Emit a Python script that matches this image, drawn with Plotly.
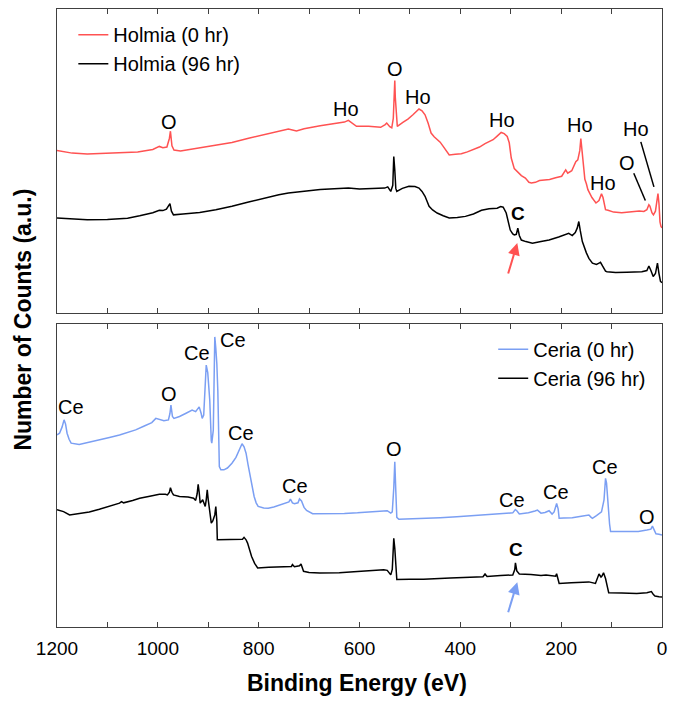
import plotly.graph_objects as go

# ---------------- data (binding energy in eV, counts in a.u. = % of panel height) -------------
holmia0_E = [1200, 1170, 1140, 1100, 1076, 1040, 1010, 997, 990, 982, 977, 975, 972, 968, 955, 917, 885, 853,
             820, 789, 760, 741, 725, 710, 678, 646, 630, 622, 614, 606, 582, 558, 549, 546, 540, 536, 533, 531,
             530, 529, 527, 525, 514, 504, 494, 488, 482, 476, 470, 464, 458, 452, 446, 440, 434, 428, 422, 410,
             398, 386, 374, 362, 351, 343, 335, 327, 319, 313, 307, 303, 299, 293, 287, 279, 271, 264, 259, 251,
             243, 233, 223, 211, 199, 191, 187, 179, 171, 167, 163, 161, 159, 156, 153, 150, 147, 139, 131, 125,
             120, 117, 112, 107, 102, 96, 80, 64, 53, 45, 36, 30, 26, 24, 20, 17, 13, 10, 8, 6, 4, 2, 0]
holmia0_C = [53.5, 52.6, 52.3, 52.5, 52.6, 53.0, 53.8, 54.8, 54.4, 54.6, 57.5, 59.8, 55.0, 53.6, 53.3, 54.3, 55.2,
             56.1, 57.5, 58.7, 60.0, 60.5, 59.9, 60.6, 61.6, 62.5, 62.8, 63.4, 62.5, 61.4, 61.4, 61.1, 62.0, 62.5,
             61.3, 60.9, 64.0, 72.0, 76.5, 71.0, 64.0, 61.4, 62.7, 63.8, 65.2, 66.2, 67.1, 66.5, 65.2, 62.5, 59.2,
             58.0, 57.0, 56.2, 54.8, 53.2, 52.0, 52.2, 52.4, 53.0, 53.7, 54.6, 55.7, 56.3, 57.0, 58.2, 59.4, 59.0,
             58.1, 56.0, 51.0, 47.5, 46.6, 45.2, 44.4, 43.0, 42.8, 43.0, 43.6, 43.8, 43.9, 44.5, 45.0, 47.1, 46.0,
             46.8, 49.8, 50.4, 53.5, 57.4, 54.0, 48.0, 44.0, 42.5, 40.6, 38.0, 36.2, 37.0, 39.2, 38.0, 34.0, 33.8,
             33.6, 33.2, 33.0, 33.2, 33.4, 33.6, 33.4, 34.0, 35.6, 35.2, 33.0, 32.3, 33.5, 38.0, 39.3, 36.0, 30.0,
             28.5, 28.0]

holmia96_E = [1200, 1170, 1140, 1100, 1076, 1060, 1036, 1010, 997, 990, 983, 978, 976, 973, 969, 950, 917, 885,
              853, 820, 789, 760, 741, 710, 678, 650, 622, 600, 575, 550, 544, 538, 534, 532, 530, 528, 526, 515,
              502, 490, 482, 476, 470, 462, 455, 446, 434, 422, 406, 390, 374, 358, 343, 335, 327, 320, 315, 309,
              305, 301, 296, 293, 289, 287, 286, 283, 279, 270, 257, 240, 224, 205, 191, 185, 178, 172, 168, 165,
              162, 158, 150, 145, 138, 130, 124, 122, 118, 112, 109, 92, 70, 50, 40, 30, 26, 22, 17.5, 13, 11, 9,
              6, 3, 0]
holmia96_C = [31.3, 30.9, 30.7, 30.8, 31.0, 31.2, 32.0, 33.0, 33.8, 33.7, 34.2, 35.5, 36.0, 33.5, 32.3, 32.6, 33.1,
              34.0, 35.1, 36.5, 37.8, 38.9, 39.5, 40.1, 40.6, 40.9, 41.1, 40.8, 41.0, 41.1, 41.5, 40.0, 42.0, 51.5,
              47.0, 41.0, 40.0, 41.0, 41.7, 41.6, 41.1, 40.0, 38.4, 35.1, 33.9, 32.9, 32.0, 31.3, 31.4, 31.8, 32.6,
              33.8, 34.3, 34.3, 34.5, 35.0, 34.8, 32.9, 30.0, 27.3, 26.0, 25.7, 25.9, 27.0, 27.9, 25.5, 24.0, 23.5,
              23.0, 23.5, 24.0, 25.0, 25.7, 26.2, 25.5, 26.5, 28.0, 30.1, 27.0, 23.5, 19.8, 18.0, 16.4, 16.0, 16.5,
              16.7, 15.5, 13.8, 13.6, 13.3, 13.4, 13.4, 13.6, 14.0, 15.5, 14.0, 12.0, 13.0, 15.0, 16.4, 13.0, 10.4,
              10.0]

ceria0_E = [1200, 1195, 1190, 1186, 1183, 1180, 1176, 1172, 1156, 1136, 1116, 1096, 1076, 1060, 1044, 1028, 1012,
            1004, 996, 988, 979, 976, 974, 971, 968, 957, 945, 932, 925, 918, 914, 912, 909, 906, 904, 901, 899,
            897, 894, 893, 890, 888, 887, 885, 883, 881, 879.5, 878, 875, 869, 862, 853, 845, 838, 833, 829, 825,
            821, 817, 813, 809, 805, 801, 790, 781, 770, 757, 745, 740, 737, 733, 729, 722, 719, 715, 710, 705,
            693, 661, 630, 604, 580, 560, 545, 538, 535, 532, 530, 528, 526, 522, 500, 473, 440, 407, 375, 342,
            320, 296, 291, 288, 283, 265, 252, 247, 240, 232, 224, 218, 214, 211, 209, 206, 204, 195, 178, 160,
            145, 141, 138, 130, 120, 115, 112, 110, 107, 104, 102, 80, 47, 30, 22, 19, 16, 12, 6, 0]
ceria0_C = [63.4, 64.0, 66.0, 68.4, 67.0, 64.0, 62.0, 60.7, 60.3, 61.0, 61.8, 62.6, 63.4, 64.2, 65.1, 66.3, 67.5,
            68.9, 68.4, 68.1, 68.4, 70.5, 73.3, 69.5, 68.9, 69.5, 70.5, 71.6, 71.1, 72.7, 70.5, 68.9, 70.0, 80.0,
            86.5, 84.0, 80.0, 74.9, 61.5, 60.7, 65.0, 80.0, 95.8, 92.0, 87.0, 78.0, 62.0, 53.0, 51.9, 51.9, 52.5,
            54.1, 56.0, 58.5, 60.5, 59.5, 57.4, 53.5, 49.7, 46.0, 43.1, 41.0, 39.8, 39.3, 39.2, 39.6, 40.3, 40.9,
            41.3, 42.2, 41.0, 40.7, 41.0, 42.3, 41.6, 39.5, 38.5, 37.4, 37.4, 37.5, 37.7, 37.9, 38.2, 38.4, 37.6,
            38.0, 46.0, 54.6, 45.0, 36.2, 35.6, 35.7, 35.9, 36.1, 36.4, 36.8, 37.3, 37.5, 37.7, 38.8, 38.4, 37.3,
            37.7, 38.3, 38.6, 37.6, 37.8, 38.4, 37.3, 38.0, 39.5, 40.8, 39.0, 35.9, 36.0, 36.1, 36.6, 37.0, 36.3,
            35.9, 36.8, 38.0, 42.0, 49.1, 47.5, 40.0, 34.0, 31.5, 31.5, 31.5, 32.0, 32.3, 33.3, 32.0, 30.8, 30.6,
            30.4]

ceria96_E = [1200, 1187, 1175, 1165, 1156, 1136, 1116, 1096, 1076, 1072, 1068, 1050, 1036, 1016, 997, 985, 981,
             977, 975, 972, 969, 957, 940, 929, 925, 922, 920, 918, 916, 911, 906, 904, 902, 900, 898, 894, 891,
             889, 887, 885, 883, 882, 870, 855, 842, 832, 829, 825, 822, 818, 814, 808, 802, 780, 759, 735, 733,
             729, 719, 716, 711, 700, 679, 640, 604, 575, 552, 545, 538, 535, 532, 530, 528, 526, 500, 473, 420,
             380, 355, 351, 347, 320, 296, 292, 290.7, 288, 283, 260, 240, 230, 220, 211, 209, 207, 204, 180, 160,
             145, 132, 128, 125, 121, 119, 116, 112, 108, 105.7, 80, 50, 30, 24, 21, 17, 14, 6, 0]
ceria96_C = [38.7, 38.1, 37.0, 37.3, 37.4, 38.0, 38.9, 39.8, 40.9, 41.4, 41.0, 41.8, 42.5, 43.2, 43.8, 43.8, 43.6,
             44.5, 46.0, 44.5, 43.6, 43.1, 42.9, 42.5, 41.8, 44.0, 47.1, 44.5, 40.9, 42.0, 39.8, 42.0, 45.3, 42.0,
             38.7, 34.3, 35.0, 36.5, 37.0, 39.8, 35.0, 28.8, 28.8, 29.0, 28.8, 29.0, 29.6, 28.8, 27.7, 25.5, 23.3,
             21.0, 19.5, 19.7, 19.8, 20.0, 20.6, 19.9, 20.2, 20.8, 18.4, 18.0, 17.8, 17.9, 18.3, 18.6, 18.9, 18.7,
             17.2, 19.0, 29.3, 26.0, 18.0, 15.7, 15.8, 15.8, 16.2, 16.5, 16.6, 17.5, 16.7, 17.0, 17.2, 19.0, 21.2,
             18.5, 17.5, 17.3, 17.0, 17.2, 16.9, 16.8, 17.6, 16.5, 14.4, 14.6, 14.7, 14.9, 14.4, 16.0, 17.5, 16.5,
             16.8, 17.9, 16.0, 13.0, 11.3, 11.2, 11.1, 11.3, 11.5, 11.7, 10.7, 10.2, 10.0, 9.9]

# peak labels: (text, energy, height)
holmia_labels = [("O", 978, 63.0), ("O", 530, 80.3), ("Ho", 627, 67.1), ("Ho", 484, 71.1), ("Ho", 317, 63.6),
                 ("Ho", 162, 61.7), ("Ho", 117, 42.8), ("O", 69, 49.3), ("Ho", 51, 60.5)]
ceria_labels = [("Ce", 1173, 72.5), ("O", 978, 77.1), ("Ce", 923, 90.5), ("Ce", 851, 94.9), ("Ce", 835, 64.2),
                ("O", 532, 58.7), ("Ce", 727, 46.4), ("Ce", 297, 42.0), ("Ce", 211, 44.5), ("Ce", 114, 53.0),
                ("O", 29, 36.2)]
tick_vals = list(range(0, 1201, 100))
tick_text = [str(v) if v % 200 == 0 else "" for v in tick_vals]

RED = "#ff5252"
BLUE = "#7b9ff3"
FONT = "Liberation Sans, Arial, sans-serif"
FRAME = "#404040"

fig = go.Figure()
fig.add_trace(go.Scatter(x=holmia0_E, y=holmia0_C, mode="lines", name="Holmia (0 hr)",
                         line=dict(color=RED, width=1.5), xaxis="x", yaxis="y", legend="legend"))
fig.add_trace(go.Scatter(x=holmia96_E, y=holmia96_C, mode="lines", name="Holmia (96 hr)",
                         line=dict(color="black", width=1.5), xaxis="x", yaxis="y", legend="legend"))
fig.add_trace(go.Scatter(x=ceria0_E, y=ceria0_C, mode="lines", name="Ceria (0 hr)",
                         line=dict(color=BLUE, width=1.5), xaxis="x2", yaxis="y2", legend="legend2"))
fig.add_trace(go.Scatter(x=ceria96_E, y=ceria96_C, mode="lines", name="Ceria (96 hr)",
                         line=dict(color="black", width=1.5), xaxis="x2", yaxis="y2", legend="legend2"))

ann = []
for t, e, c in holmia_labels:
    ann.append(dict(text=t, x=e, y=c, xref="x", yref="y", showarrow=False, font=dict(size=20, color="black")))
for t, e, c in ceria_labels:
    ann.append(dict(text=t, x=e, y=c, xref="x2", yref="y2", showarrow=False, font=dict(size=20, color="black")))
# carbon marks and arrows
ann.append(dict(text="<b>C</b>", x=285, y=32.6, xref="x", yref="y", showarrow=False, font=dict(size=19, color="black")))
ann.append(dict(text="<b>C</b>", x=289, y=25.6, xref="x2", yref="y2", showarrow=False, font=dict(size=19, color="black")))
ann.append(dict(text="", x=287, y=23.0, ax=306, ay=12.5, xref="x", yref="y", axref="x", ayref="y",
                showarrow=True, arrowhead=2, arrowsize=1.2, arrowwidth=2, arrowcolor=RED))
ann.append(dict(text="", x=287, y=14.8, ax=306, ay=4.4, xref="x2", yref="y2", axref="x2", ayref="y2",
                showarrow=True, arrowhead=2, arrowsize=1.2, arrowwidth=2, arrowcolor=BLUE))
# axis titles
ann.append(dict(text="<b>Number of Counts (a.u.)</b>", x=-0.0566, y=0.497, xref="paper", yref="paper",
                textangle=-90, showarrow=False, xanchor="center", yanchor="middle",
                font=dict(size=23, color="black")))
ann.append(dict(text="<b>Binding Energy (eV)</b>", x=0.496, y=-0.0906, xref="paper", yref="paper",
                showarrow=False, xanchor="center", yanchor="middle", font=dict(size=23, color="black")))

shapes = [
    dict(type="line", xref="x", yref="y", x0=56, y0=46.0, x1=33, y1=37.0, line=dict(color="black", width=1.5)),
    dict(type="line", xref="x", yref="y", x0=42, y0=56.3, x1=16, y1=41.5, line=dict(color="black", width=1.5)),
]

xcommon = dict(range=[1200, 0], tickmode="array", tickvals=tick_vals, ticktext=tick_text, ticks="inside",
               ticklen=5, tickcolor=FRAME, tickwidth=1, showline=True, linecolor=FRAME, linewidth=1.2,
               mirror="allticks", showgrid=False, zeroline=False)
ycommon = dict(range=[0, 100], showticklabels=False, ticks="", showline=True, linecolor=FRAME, linewidth=1.2,
               mirror=True, showgrid=False, zeroline=False)

fig.update_layout(
    width=673, height=705,
    margin=dict(l=57, r=6, t=9, b=78),
    paper_bgcolor="white", plot_bgcolor="white",
    font=dict(family=FONT, color="black"),
    xaxis=dict(domain=[0, 1], anchor="y", showticklabels=False, **xcommon),
    yaxis=dict(domain=[0.508, 1], anchor="x", **ycommon),
    xaxis2=dict(domain=[0, 1], anchor="y2", showticklabels=True, tickfont=dict(size=19, color="black"),
                ticklabelstandoff=4, **xcommon),
    yaxis2=dict(domain=[0, 0.490], anchor="x2", **ycommon),
    legend=dict(x=0.027, y=0.990, xanchor="left", yanchor="top", bgcolor="rgba(0,0,0,0)",
                font=dict(size=20, color="black"), itemwidth=30, tracegroupgap=0),
    legend2=dict(x=0.721, y=0.481, xanchor="left", yanchor="top", bgcolor="rgba(0,0,0,0)",
                 font=dict(size=20, color="black"), itemwidth=30, tracegroupgap=0),
    annotations=ann,
    shapes=shapes,
)

fig.write_html("out.html")
